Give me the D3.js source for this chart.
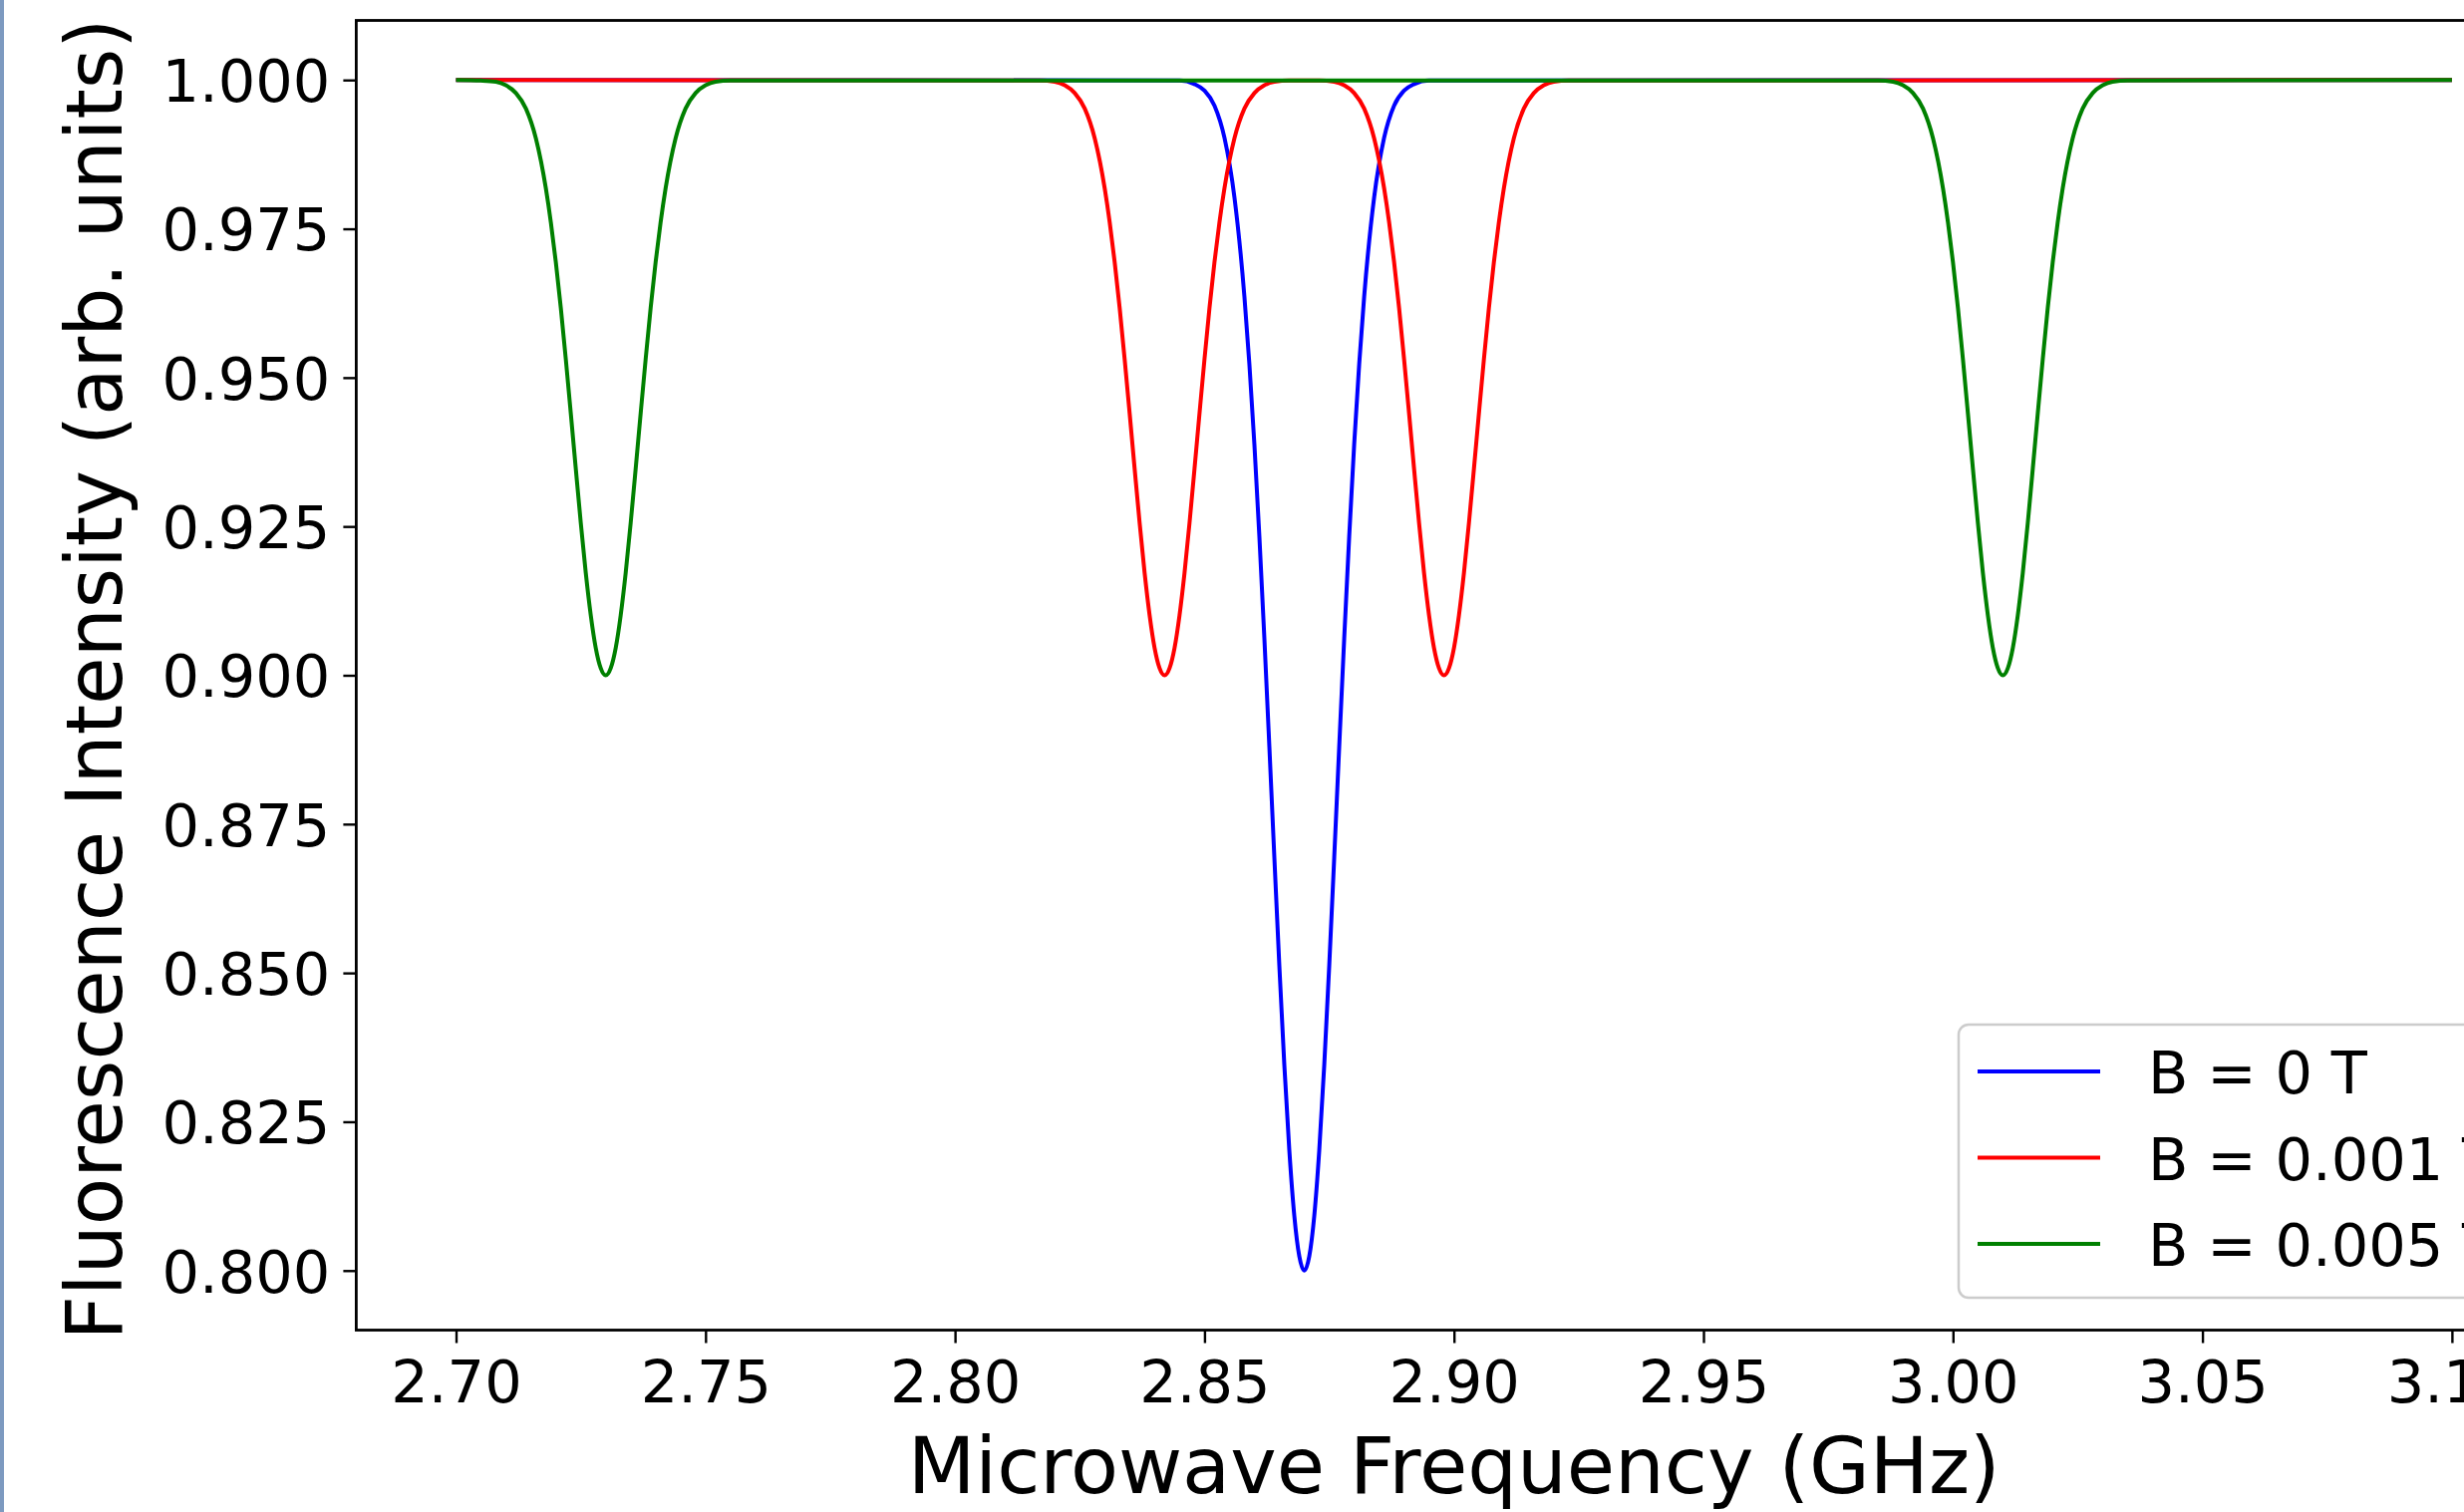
<!DOCTYPE html>
<html>
<head>
<meta charset="utf-8">
<script src="https://cdn.jsdelivr.net/npm/d3@7"></script>
<style>
  html, body { margin: 0; padding: 0; background: #ffffff; overflow: hidden; }
  svg { display: block; }
  text { font-family: "DejaVu Sans", sans-serif; fill: #000; }
</style>
</head>
<body>
<script>
// ---------- data ----------
const seriesNames = ["B = 0 T", "B = 0.001 T", "B = 0.005 T"];
const seriesColors = ["#0000ff", "#ff0000", "#008000"];

const xTickValues = [2.70, 2.75, 2.80, 2.85, 2.90, 2.95, 3.00, 3.05, 3.10];
const yTickValues = [0.800, 0.825, 0.850, 0.875, 0.900, 0.925, 0.950, 0.975, 1.000];

// B = 0 T : single dip at 2.870 GHz
const freqB0 = [2.700,
  2.845, 2.848, 2.850, 2.852, 2.854, 2.856, 2.858, 2.859, 2.860, 2.861, 2.862, 2.863, 2.864, 2.865, 2.866, 2.867, 2.868, 2.869,
  2.870,
  2.871, 2.872, 2.873, 2.874, 2.875, 2.876, 2.877, 2.878, 2.879, 2.880, 2.881, 2.882, 2.884, 2.886, 2.888, 2.890, 2.892, 2.895,
  3.100];
const intB0 = [1.0000,
  0.9999, 0.9993, 0.9982, 0.9957, 0.9903, 0.9803, 0.9636, 0.9522, 0.9388, 0.9233, 0.9062, 0.8880, 0.8694, 0.8512, 0.8345, 0.8202, 0.8092, 0.8024,
  0.8000,
  0.8024, 0.8092, 0.8202, 0.8345, 0.8512, 0.8694, 0.8880, 0.9062, 0.9233, 0.9388, 0.9522, 0.9636, 0.9803, 0.9903, 0.9957, 0.9982, 0.9993, 0.9999,
  1.0000];

// B = 0.001 T : dips at 2.842 and 2.898 GHz
const freqB1 = [2.700,
  2.817, 2.820, 2.822, 2.824, 2.826, 2.828, 2.830, 2.831, 2.832, 2.833, 2.834, 2.835, 2.836, 2.837, 2.838, 2.839, 2.840, 2.841,
  2.842,
  2.843, 2.844, 2.845, 2.846, 2.847, 2.848, 2.849, 2.850, 2.851, 2.852, 2.853, 2.854, 2.856, 2.858, 2.860, 2.862, 2.864, 2.867,
  2.873, 2.876, 2.878, 2.880, 2.882, 2.884, 2.886, 2.887, 2.888, 2.889, 2.890, 2.891, 2.892, 2.893, 2.894, 2.895, 2.896, 2.897,
  2.898,
  2.899, 2.900, 2.901, 2.902, 2.903, 2.904, 2.905, 2.906, 2.907, 2.908, 2.909, 2.910, 2.912, 2.914, 2.916, 2.918, 2.920, 2.923,
  3.100];
const intB1 = [1.0000,
  0.9999, 0.9997, 0.9991, 0.9978, 0.9952, 0.9902, 0.9818, 0.9761, 0.9694, 0.9617, 0.9531, 0.9440, 0.9347, 0.9256, 0.9172, 0.9101, 0.9046, 0.9012,
  0.9000,
  0.9012, 0.9046, 0.9101, 0.9172, 0.9256, 0.9347, 0.9440, 0.9531, 0.9617, 0.9694, 0.9761, 0.9818, 0.9902, 0.9952, 0.9978, 0.9991, 0.9997, 0.9999,
  0.9999, 0.9997, 0.9991, 0.9978, 0.9952, 0.9902, 0.9818, 0.9761, 0.9694, 0.9617, 0.9531, 0.9440, 0.9347, 0.9256, 0.9172, 0.9101, 0.9046, 0.9012,
  0.9000,
  0.9012, 0.9046, 0.9101, 0.9172, 0.9256, 0.9347, 0.9440, 0.9531, 0.9617, 0.9694, 0.9761, 0.9818, 0.9902, 0.9952, 0.9978, 0.9991, 0.9997, 0.9999,
  1.0000];

// B = 0.005 T : dips at 2.730 and 3.010 GHz
const freqB5 = [2.700,
  2.705, 2.708, 2.710, 2.712, 2.714, 2.716, 2.718, 2.719, 2.720, 2.721, 2.722, 2.723, 2.724, 2.725, 2.726, 2.727, 2.728, 2.729,
  2.730,
  2.731, 2.732, 2.733, 2.734, 2.735, 2.736, 2.737, 2.738, 2.739, 2.740, 2.741, 2.742, 2.744, 2.746, 2.748, 2.750, 2.752, 2.755,
  2.985, 2.988, 2.990, 2.992, 2.994, 2.996, 2.998, 2.999, 3.000, 3.001, 3.002, 3.003, 3.004, 3.005, 3.006, 3.007, 3.008, 3.009,
  3.010,
  3.011, 3.012, 3.013, 3.014, 3.015, 3.016, 3.017, 3.018, 3.019, 3.020, 3.021, 3.022, 3.024, 3.026, 3.028, 3.030, 3.032, 3.035,
  3.100];
const intB5 = [1.0000,
  0.9999, 0.9997, 0.9991, 0.9978, 0.9952, 0.9902, 0.9818, 0.9761, 0.9694, 0.9617, 0.9531, 0.9440, 0.9347, 0.9256, 0.9172, 0.9101, 0.9046, 0.9012,
  0.9000,
  0.9012, 0.9046, 0.9101, 0.9172, 0.9256, 0.9347, 0.9440, 0.9531, 0.9617, 0.9694, 0.9761, 0.9818, 0.9902, 0.9952, 0.9978, 0.9991, 0.9997, 0.9999,
  0.9999, 0.9997, 0.9991, 0.9978, 0.9952, 0.9902, 0.9818, 0.9761, 0.9694, 0.9617, 0.9531, 0.9440, 0.9347, 0.9256, 0.9172, 0.9101, 0.9046, 0.9012,
  0.9000,
  0.9012, 0.9046, 0.9101, 0.9172, 0.9256, 0.9347, 0.9440, 0.9531, 0.9617, 0.9694, 0.9761, 0.9818, 0.9902, 0.9952, 0.9978, 0.9991, 0.9997, 0.9999,
  1.0000];

const xLabel = "Microwave Frequency (GHz)";
const yLabel = "Fluorescence Intensity (arb. units)";

// ---------- layout ----------
const W = 2472, H = 1517;
const plot = { left: 357.4, right: 2560, top: 20.5, bottom: 1334.5 };

const svg = d3.select("body").append("svg").attr("width", W).attr("height", H);
svg.append("rect").attr("width", W).attr("height", H).attr("fill", "#ffffff");
svg.append("rect").attr("x", 0).attr("y", 0).attr("width", 4).attr("height", H).attr("fill", "#7d9ac0");

const x = d3.scaleLinear().domain([2.68, 3.12]).range([plot.left, plot.right]);
const y = d3.scaleLinear().domain([0.79, 1.01]).range([plot.bottom, plot.top]);

svg.append("clipPath").attr("id", "clip")
  .append("rect").attr("x", plot.left).attr("y", plot.top)
  .attr("width", plot.right - plot.left).attr("height", plot.bottom - plot.top);

// series
const series = [
  { name: seriesNames[0], color: seriesColors[0], f: freqB0, v: intB0 },
  { name: seriesNames[1], color: seriesColors[1], f: freqB1, v: intB1 },
  { name: seriesNames[2], color: seriesColors[2], f: freqB5, v: intB5 }
];
const line = d3.line().x(d => x(d[0])).y(d => y(d[1])).curve(d3.curveMonotoneX);
const gLines = svg.append("g").attr("clip-path", "url(#clip)");
series.forEach(s => {
  gLines.append("path")
    .datum(s.f.map((f, i) => [f, s.v[i]]))
    .attr("d", line)
    .attr("fill", "none")
    .attr("stroke", s.color)
    .attr("stroke-width", 4)
    .attr("stroke-linejoin", "round")
    .attr("stroke-linecap", "butt");
});

// axes
const xAxis = d3.axisBottom(x).tickValues(xTickValues).tickFormat(d3.format(".2f"))
  .tickSizeInner(13).tickSizeOuter(0).tickPadding(13);
const gx = svg.append("g").attr("transform", `translate(0,${plot.bottom})`).call(xAxis);
gx.select(".domain").remove();
gx.selectAll(".tick line").attr("stroke", "#000").attr("stroke-width", 2.4);
gx.selectAll(".tick text").attr("font-size", 59).attr("font-family", "DejaVu Sans")
  .attr("y", 72.5).attr("dy", null).attr("fill", "#000");

const yAxis = d3.axisLeft(y).tickValues(yTickValues).tickFormat(d3.format(".3f"))
  .tickSizeInner(13).tickSizeOuter(0).tickPadding(13);
const gy = svg.append("g").attr("transform", `translate(${plot.left},0)`).call(yAxis);
gy.select(".domain").remove();
gy.selectAll(".tick line").attr("stroke", "#000").attr("stroke-width", 2.4);
gy.selectAll(".tick text").attr("font-size", 59).attr("font-family", "DejaVu Sans")
  .attr("dy", "0.36em").attr("fill", "#000");

// frame
svg.append("rect")
  .attr("x", plot.left).attr("y", plot.top)
  .attr("width", plot.right - plot.left).attr("height", plot.bottom - plot.top)
  .attr("fill", "none").attr("stroke", "#000").attr("stroke-width", 2.8);

// axis labels
svg.append("text")
  .attr("x", (plot.left + plot.right) / 2).attr("y", 1498)
  .attr("text-anchor", "middle").attr("font-size", 78.5)
  .text(xLabel);
svg.append("text")
  .attr("transform", `translate(122,${(plot.top + plot.bottom) / 2 + 4}) rotate(-90)`)
  .attr("text-anchor", "middle").attr("font-size", 77.5)
  .text(yLabel);

// legend
const leg = svg.append("g");
leg.append("rect")
  .attr("x", 1965).attr("y", 1028).attr("width", 700).attr("height", 274)
  .attr("rx", 10).attr("ry", 10)
  .attr("fill", "#ffffff").attr("fill-opacity", 0.8)
  .attr("stroke", "#cccccc").attr("stroke-width", 2.5);
const legY = d3.scalePoint().domain(seriesNames).range([1075, 1248]);
series.forEach(s => {
  leg.append("line")
    .attr("x1", 1984).attr("x2", 2107)
    .attr("y1", legY(s.name)).attr("y2", legY(s.name))
    .attr("stroke", s.color).attr("stroke-width", 4);
  leg.append("text")
    .attr("x", 2155).attr("y", legY(s.name) + 22)
    .attr("font-size", 59)
    .text(s.name);
});
</script>
</body>
</html>
